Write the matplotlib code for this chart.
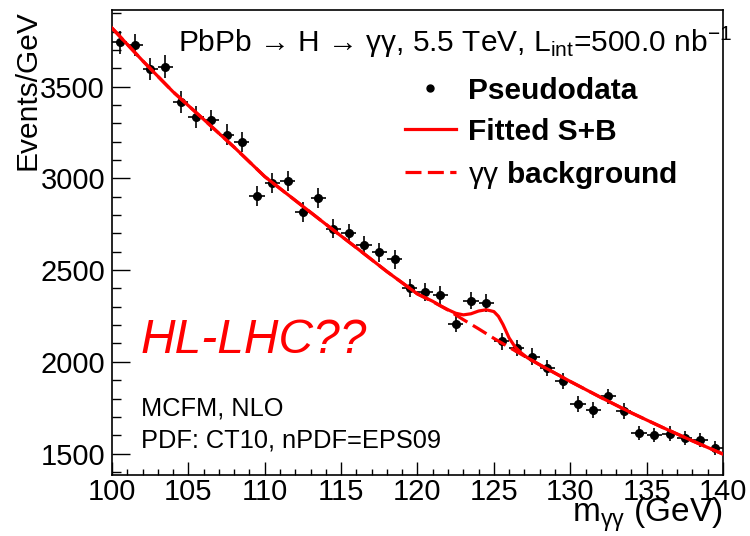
"""PbPb -> H -> gamma gamma pseudodata with S+B fit, ROOT-style."""

import numpy as np
import matplotlib
matplotlib.use("Agg")
import matplotlib.pyplot as plt
from matplotlib.lines import Line2D
from matplotlib.ticker import MultipleLocator

plt.rcParams["font.family"] = ["Liberation Sans", "DejaVu Sans"]
plt.rcParams["mathtext.fontset"] = "custom"
plt.rcParams["mathtext.rm"] = "Liberation Sans"
plt.rcParams["mathtext.default"] = "rm"

# pseudodata, 1 GeV bins from 100 to 140 GeV
bin_centres = np.arange(100.5, 140.0, 1.0)
counts = [3741, 3727, 3594, 3610, 3417, 3335, 3316, 3239, 3198, 2903,
          2975, 2986, 2816, 2893, 2726, 2702, 2636, 2597, 2559, 2404,
          2383, 2366, 2208, 2334, 2320, 2113, 2075, 2028, 1966, 1895,
          1770, 1737, 1811, 1732, 1612, 1601, 1609, 1585, 1574, 1530]

# gamma-gamma background curve
bkg_mass = [100, 102, 104, 106, 108, 110, 112, 114, 116, 118, 120,
            121, 122, 123, 124, 125, 126, 127, 128, 130, 132, 134,
            136, 138, 140]
bkg_value = [3820, 3642, 3472, 3322, 3170, 3010, 2880, 2750, 2622, 2492, 2370,
             2328, 2282, 2230, 2180, 2128, 2079, 2031, 1984, 1893, 1806, 1722,
             1644, 1569, 1497]

# fitted signal + background curve
sb_mass = [100, 102, 104, 106, 108, 110, 112, 114, 116, 118, 120,
           121.0, 121.5, 122.0, 122.5, 123.0, 123.5, 124.0, 124.5, 125.0,
           125.3, 125.6, 126.0, 126.4, 126.8, 127.2, 127.6, 128, 130, 132,
           134, 136, 138, 140]
sb_value = [3820, 3642, 3472, 3322, 3170, 3010, 2880, 2750, 2622, 2492, 2370,
            2330, 2306, 2284, 2265, 2256, 2262, 2277, 2284, 2274,
            2248, 2203, 2130, 2080, 2048, 2022, 2003, 1984, 1893, 1806,
            1722, 1644, 1569, 1497]

fig = plt.figure(figsize=(7.5, 5.36), dpi=100)
ax = fig.add_axes([0.1493, 0.1138, 0.8147, 0.8675])

counts_arr = np.asarray(counts, dtype=float)
ax.errorbar(bin_centres, counts_arr, xerr=0.5, yerr=np.sqrt(counts_arr),
            fmt="o", color="black", markersize=5.5, elinewidth=1.2,
            capsize=0, zorder=3)
ax.plot(bkg_mass, bkg_value, color="#ff0000", lw=2.3, ls=(0, (5, 2)), zorder=4)
ax.plot(sb_mass, sb_value, color="#ff0000", lw=2.3, zorder=5)

ax.set_xlim(100, 140)
ax.set_ylim(1383, 3918)
ax.xaxis.set_major_locator(MultipleLocator(5))
ax.xaxis.set_minor_locator(MultipleLocator(1))
ax.yaxis.set_major_locator(MultipleLocator(500))
ax.yaxis.set_minor_locator(MultipleLocator(100))
ax.tick_params(axis="both", which="both", direction="in", top=False,
               right=False, labelsize=21, width=1.0)
ax.tick_params(axis="x", which="major", length=9.4, pad=2)
ax.tick_params(axis="x", which="minor", length=4.3)
ax.tick_params(axis="y", which="major", length=13.3, pad=5)
ax.tick_params(axis="y", which="minor", length=6.5)
for spine in ax.spines.values():
    spine.set_linewidth(1.2)

ax.set_xlabel("m$_{γγ}$ (GeV)", fontsize=24, loc="right", va="bottom")
ax.xaxis.set_label_coords(1.0, -0.127)
ax.set_ylabel("Events/GeV", fontsize=21.5, loc="top")
ax.yaxis.set_label_coords(-0.115, 1.0)

fig.text(178 / 750, 1 - 42 / 536,
         "PbPb → H → γγ, 5.5 TeV, L$_{int}$=500.0 nb$^{-1}$",
         fontsize=21.5, va="center", ha="left")

ax.text(0.047, 0.29, "HL-LHC??", transform=ax.transAxes, fontsize=34.5,
        style="italic", color="#ff0000", va="center", ha="left")
ax.text(0.047, 0.144, "MCFM, NLO", transform=ax.transAxes, fontsize=18.3,
        va="center", ha="left")
ax.text(0.047, 0.075, "PDF: CT10, nPDF=EPS09", transform=ax.transAxes,
        fontsize=18.3, va="center", ha="left")

handles = [
    Line2D([], [], marker="o", color="black", ls="none", markersize=5),
    Line2D([], [], color="#ff0000", lw=2.3),
    Line2D([], [], color="#ff0000", lw=2.3, ls=(0, (5, 2))),
]
labels = ["Pseudodata", "Fitted S+B", r"$\mathrm{γγ}$ background"]
ax.legend(handles, labels, loc="upper left", bbox_to_anchor=(0.4795, 0.857),
          frameon=False, prop={"size": 21.5, "weight": "bold"},
          handlelength=1.7, handletextpad=0.4, labelspacing=0.44,
          borderpad=0, borderaxespad=0)

fig.savefig("out.png", dpi=100)
